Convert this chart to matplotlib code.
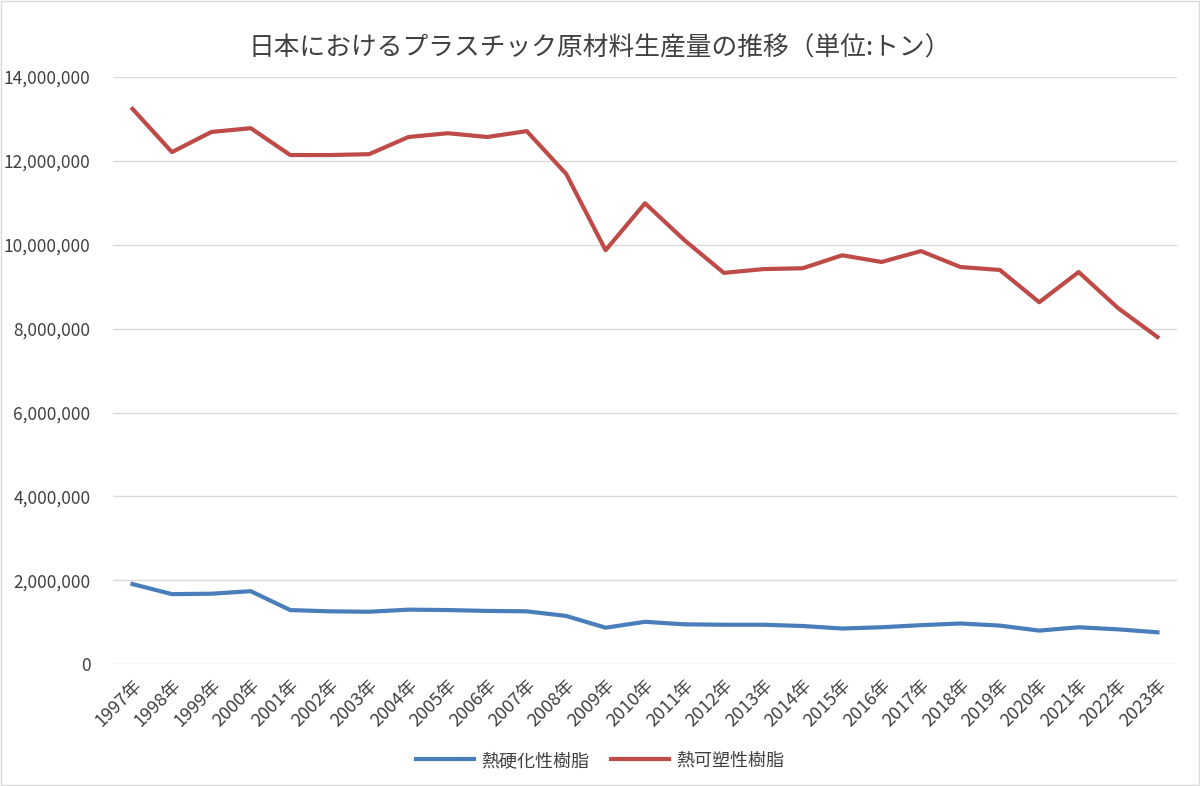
import matplotlib
matplotlib.use('Agg')
import matplotlib.pyplot as plt
from matplotlib.patches import Rectangle
from matplotlib.ticker import FuncFormatter

plt.rcParams['font.family'] = ['Noto Sans CJK JP', 'DejaVu Sans']

# production per year (tonnes)
years = [f'{y}年' for y in range(1997, 2024)]
thermoset = [1910000, 1670000, 1680000, 1740000, 1290000, 1260000, 1250000,
             1300000, 1290000, 1270000, 1260000, 1150000, 870000, 1010000,
             950000, 940000, 940000, 910000, 850000, 880000, 930000, 970000,
             920000, 800000, 880000, 830000, 760000]
thermoplastic = [13240000, 12210000, 12690000, 12780000, 12140000, 12140000,
                 12160000, 12570000, 12660000, 12570000, 12710000, 11690000,
                 9870000, 10990000, 10110000, 9330000, 9420000, 9440000,
                 9750000, 9590000, 9850000, 9470000, 9400000, 8630000,
                 9350000, 8490000, 7800000]
series_names = ['熱硬化性樹脂', '熱可塑性樹脂']
title = '日本におけるプラスチック原材料生産量の推移（単位:トン）'

fig = plt.figure(figsize=(12, 7.86), dpi=100)
ax = fig.add_axes([0.094, 0.155, 0.887, 0.747])

x = range(len(years))
ax.plot(x, thermoset, color='#4a7ebb', lw=3, label=series_names[0],
        solid_joinstyle='round')
ax.plot(x, thermoplastic, color='#be4b48', lw=3, label=series_names[1],
        solid_joinstyle='round')

ax.set_xlim(-0.5, len(years) - 0.5)
ax.set_ylim(0, 14000000)
ax.set_yticks(range(0, 14000001, 2000000))
ax.yaxis.set_major_formatter(FuncFormatter(lambda v, p: f'{int(v):,}'))
ax.grid(axis='y', color='#d9d9d9', lw=1)
ax.set_axisbelow(True)
for s in ax.spines.values():
    s.set_visible(False)
ax.tick_params(axis='both', length=0, labelsize=12.5, colors='#404040')
ax.tick_params(axis='y', pad=16)
ax.tick_params(axis='x', pad=9, labelsize=13)
ax.set_xticks(list(x))
ax.set_xticklabels(years, rotation=45, ha='right', rotation_mode='anchor')

fig.suptitle(title, y=0.955, fontsize=18.5, color='#404040')
fig.legend(loc='lower center', bbox_to_anchor=(0.5, 0.0), ncol=2,
           frameon=False, fontsize=13, handlelength=3.2, handletextpad=0.4,
           labelcolor='#404040', columnspacing=1.2)

# thin border round the whole chart
fig.patches.append(Rectangle((0.001, 0.001), 0.998, 0.998,
                             transform=fig.transFigure, fill=False,
                             edgecolor='#d9d9d9', lw=1))

fig.savefig('out.png', dpi=100)
